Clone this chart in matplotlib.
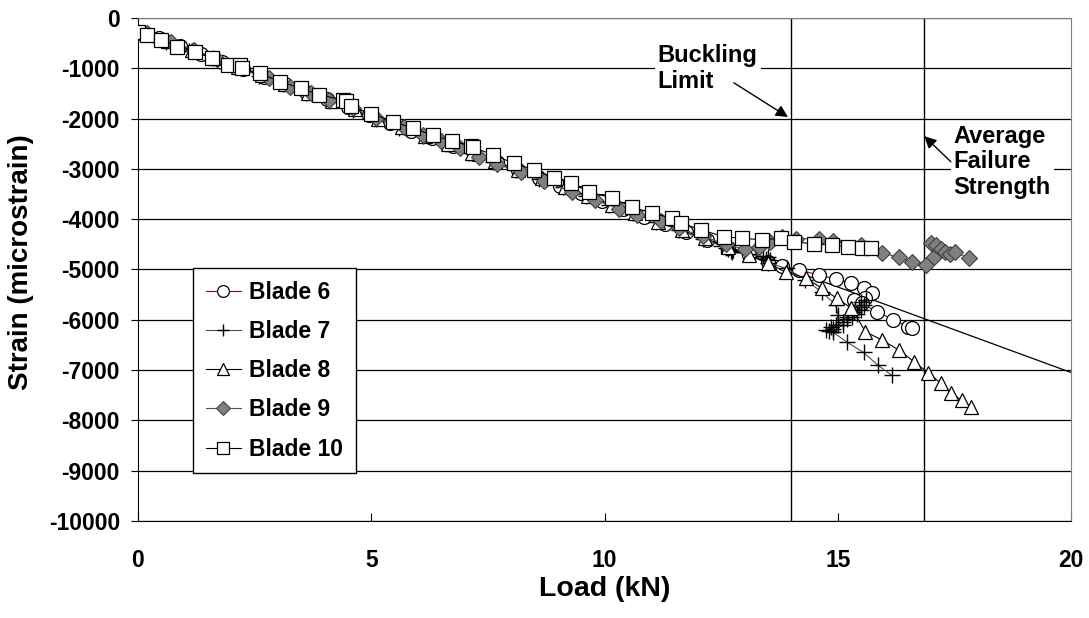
import matplotlib
matplotlib.use("Agg")
import matplotlib.pyplot as plt

plt.rcParams['font.family'] = ['Liberation Sans', 'DejaVu Sans']
plt.rcParams['font.weight'] = 'bold'
plt.rcParams['axes.unicode_minus'] = False

# Datos (carga en kN, deformacion en microstrain)
load_b6 = [0.05, 0.45, 0.9, 1.35, 1.8, 2.25, 2.7, 3.15, 3.6, 4.05, 4.5, 4.95, 5.4, 5.85,
           6.3, 6.75, 7.2, 7.7, 8.15, 8.6, 9.05, 9.5, 9.95, 10.4, 10.85, 11.3, 11.75, 12.2,
           12.65, 13.1, 13.5, 13.8, 14.16, 14.59, 14.95, 15.29, 15.55, 15.72, 15.59, 15.34,
           15.51, 15.83, 16.19, 16.51, 16.58]
strain_b6 = [-270, -400, -560, -710, -870, -1010, -1170, -1320, -1480, -1620, -1780, -1930,
             -2080, -2240, -2390, -2540, -2700, -2870, -3030, -3180, -3340, -3490, -3640,
             -3790, -3950, -4100, -4250, -4410, -4570, -4710, -4850, -4940, -5010, -5110,
             -5190, -5270, -5370, -5470, -5570, -5600, -5670, -5840, -6000, -6140, -6170]

load_b7 = [0.1, 0.6, 1.1, 1.6, 2.1, 2.6, 3.1, 3.6, 4.1, 4.6, 5.1, 5.6, 6.1, 6.6, 7.1, 7.6,
           8.1, 8.6, 9.1, 9.6, 10.1, 10.6, 11.1, 11.6, 12.1, 12.5, 12.6, 12.65, 12.7, 12.75,
           12.72, 13.1, 13.4, 13.45, 13.5, 13.55, 13.5, 13.9, 14.3, 14.65, 14.95, 15.0,
           14.95, 14.75, 14.8, 14.85, 14.9, 15.0, 15.1, 15.2, 15.3, 15.4, 15.5, 15.55, 15.6,
           15.5, 15.45, 15.35, 15.2, 15.1, 14.9, 15.2, 15.55, 15.85, 16.15]
strain_b7 = [-300, -470, -650, -800, -980, -1150, -1320, -1500, -1660, -1830, -2000, -2180,
             -2340, -2510, -2690, -2860, -3030, -3210, -3370, -3540, -3720, -3880, -4050,
             -4220, -4400, -4530, -4580, -4600, -4640, -4610, -4660, -4700, -4740, -4790,
             -4760, -4820, -4870, -4980, -5200, -5450, -5700, -5900, -6100, -6200, -6230,
             -6150, -6180, -6100, -6050, -5980, -5950, -5880, -5800, -5700, -5600, -5650,
             -5750, -5850, -5950, -6100, -6250, -6450, -6650, -6900, -7100]

load_b8 = [0.15, 0.65, 1.15, 1.65, 2.15, 2.65, 3.15, 3.65, 4.15, 4.65, 5.15, 5.65, 6.15,
           6.65, 7.15, 7.65, 8.15, 8.65, 9.15, 9.65, 10.15, 10.65, 11.15, 11.65, 12.15,
           12.65, 13.1, 13.5, 13.88, 14.31, 14.65, 14.97, 15.29, 15.59, 15.94, 16.3, 16.64,
           16.94, 17.2, 17.43, 17.65, 17.86]
strain_b8 = [-290, -460, -640, -800, -980, -1140, -1320, -1490, -1660, -1820, -2000, -2170,
             -2340, -2500, -2680, -2850, -3020, -3190, -3370, -3540, -3710, -3870, -4050,
             -4220, -4380, -4560, -4720, -4880, -5050, -5170, -5370, -5570, -5770, -6240,
             -6400, -6600, -6840, -7060, -7260, -7460, -7600, -7730]

load_b9 = [0.2, 0.7, 1.2, 1.7, 2.2, 2.8, 3.25, 3.7, 4.1, 4.6, 5.1, 5.7, 6.1, 6.5, 6.9, 7.3,
           7.7, 8.2, 8.7, 9.3, 9.8, 10.3, 10.7, 11.2, 11.6, 12.1, 12.6, 13.0, 13.3, 13.55,
           13.8, 14.1, 14.6, 14.9, 15.5, 15.94, 16.3, 16.58, 16.88, 17.05, 17.0, 17.1, 17.2,
           17.3, 17.4, 17.5, 17.8]
strain_b9 = [-300, -470, -640, -810, -980, -1200, -1370, -1500, -1640, -1800, -1990, -2170,
             -2330, -2450, -2590, -2760, -2910, -3070, -3240, -3460, -3620, -3790, -3910,
             -4040, -4180, -4340, -4500, -4600, -4560, -4450, -4350, -4390, -4390, -4430,
             -4510, -4680, -4750, -4850, -4910, -4750, -4480, -4520, -4600, -4660, -4700,
             -4660, -4770]

load_b10 = [0.0, 0.19, 0.5, 0.83, 1.22, 1.58, 1.93, 2.18, 2.22, 2.61, 3.04, 3.5, 3.89, 4.39,
            4.45, 4.57, 5.0, 5.46, 5.89, 6.32, 6.72, 7.14, 7.18, 7.6, 8.06, 8.49, 8.92, 9.28,
            9.67, 10.16, 10.59, 11.02, 11.44, 11.64, 12.06, 12.56, 12.94, 13.37, 13.78,
            14.05, 14.48, 14.87, 15.21, 15.51, 15.7]
strain_b10 = [-270, -340, -440, -570, -670, -800, -935, -935, -1000, -1100, -1265, -1400,
              -1530, -1630, -1650, -1760, -1900, -2060, -2190, -2330, -2440, -2550, -2570,
              -2720, -2890, -3020, -3180, -3280, -3460, -3580, -3760, -3880, -3980, -4080,
              -4210, -4350, -4380, -4410, -4380, -4450, -4490, -4510, -4550, -4570, -4570]

# Linea de referencia (tendencia lineal)
ref_load = [0, 20]
ref_strain = [-250, -7050]

buckling_limit = 14.0
failure_strength = 16.85

fig = plt.figure(figsize=(10.89, 6.18), dpi=100)
ax = fig.add_axes([0.1267, 0.157, 0.857, 0.814])

ax.plot(ref_load, ref_strain, color='black', lw=0.9, zorder=2)

ax.plot(load_b6, strain_b6, color='#990000', lw=0.8, marker='o', ms=10,
        mfc='white', mec='black', mew=0.9, label='Blade 6', zorder=3)
ax.plot(load_b7, strain_b7, color='#505050', lw=0.8, marker='+', ms=11,
        mec='black', mew=1.0, label='Blade 7', zorder=3)
ax.plot(load_b8, strain_b8, color='black', lw=0.8, marker='^', ms=10,
        mfc='white', mec='black', mew=0.9, label='Blade 8', zorder=3)
ax.plot(load_b9, strain_b9, color='#505050', lw=0.8, marker='D', ms=8,
        mfc='#808080', mec='#404040', mew=0.8, label='Blade 9', zorder=3)
ax.plot(load_b10, strain_b10, color='black', lw=0.8, marker='s', ms=10,
        mfc='white', mec='black', mew=0.9, label='Blade 10', zorder=4)

# Lineas verticales: limite de pandeo y resistencia media a falla
ax.axvline(buckling_limit, color='black', lw=1.0, zorder=1.5)
ax.axvline(failure_strength, color='black', lw=1.0, zorder=1.5)

ax.set_xlim(0, 20)
ax.set_ylim(-10000, 0)
ax.set_xticks([0, 5, 10, 15, 20])
ax.set_yticks(range(-10000, 1, 1000))
ax.yaxis.grid(True, color='black', lw=0.9)
ax.set_axisbelow(True)

ax.tick_params(axis='x', direction='in', length=6, labelsize=16.5, pad=20)
ax.tick_params(axis='y', direction='out', length=5, labelsize=16.5, pad=8)
for lbl in ax.get_xticklabels() + ax.get_yticklabels():
    lbl.set_fontweight('bold')

ax.spines['left'].set_color('black')
ax.spines['bottom'].set_color('black')
ax.spines['top'].set_color('#808080')
ax.spines['right'].set_color('#808080')

ax.set_xlabel('Load (kN)', fontsize=20.5, fontweight='bold', labelpad=3)
ax.set_ylabel('Strain (microstrain)', fontsize=20, fontweight='bold')
ax.yaxis.set_label_coords(-0.111, 0.515)

# Anotaciones
ax.text(11.14, -1010, 'Buckling\nLimit', fontsize=17, fontweight='bold',
        ha='left', va='center', linespacing=1.15,
        bbox=dict(facecolor='white', edgecolor='none', pad=2), zorder=5)
ax.annotate('', xy=(13.93, -1970), xytext=(12.77, -1290),
            arrowprops=dict(arrowstyle='-|>', color='black', lw=1.0,
                            mutation_scale=18, shrinkA=0, shrinkB=0), zorder=5)

ax.text(17.48, -2860, 'Average\nFailure\nStrength', fontsize=17, fontweight='bold',
        ha='left', va='center', linespacing=1.15,
        bbox=dict(facecolor='white', edgecolor='none', pad=2), zorder=5)
ax.annotate('', xy=(16.85, -2350), xytext=(17.42, -2860),
            arrowprops=dict(arrowstyle='-|>', color='black', lw=1.0,
                            mutation_scale=18, shrinkA=0, shrinkB=0), zorder=5)

leg = ax.legend(loc='upper left', bbox_to_anchor=(0.059, 0.503), borderaxespad=0,
                fancybox=False, edgecolor='black', framealpha=1,
                prop={'size': 16.5, 'weight': 'bold'}, labelspacing=0.71,
                handlelength=1.55, handletextpad=0.35, borderpad=0.55,
                markerscale=0.85)
leg.get_frame().set_linewidth(1.0)
leg.set_zorder(6)

fig.savefig('out.png', dpi=100)
